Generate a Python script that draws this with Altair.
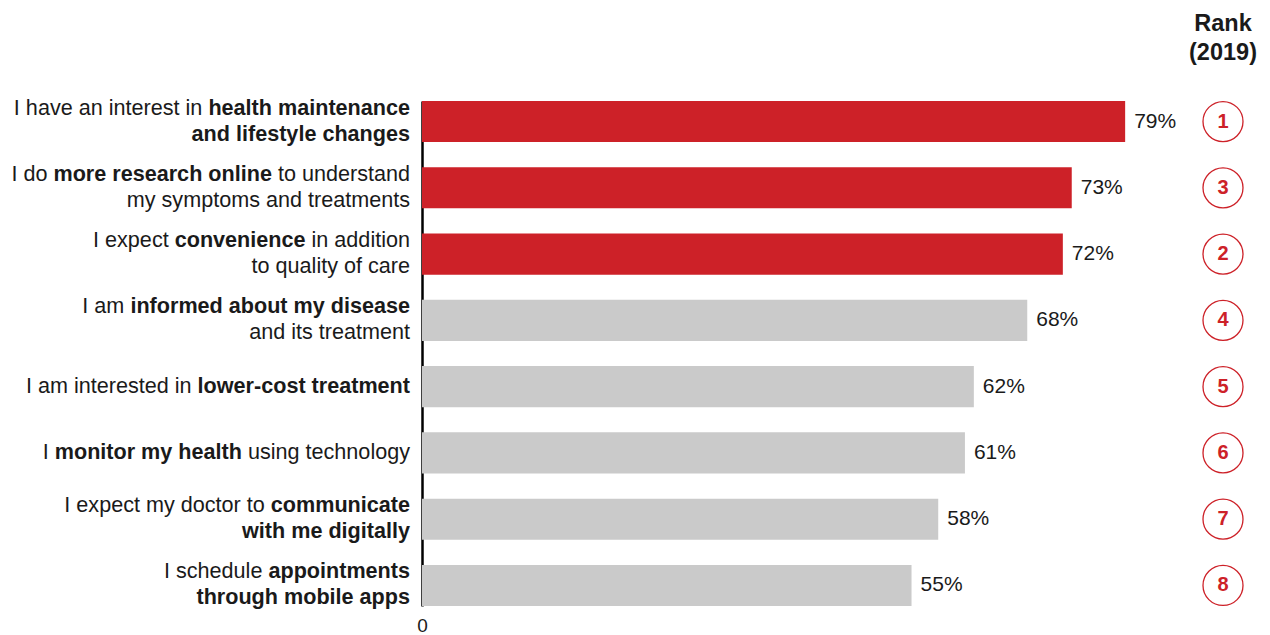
import altair as alt
import pandas as pd

# ---------------- data ----------------
categories = [
    "I have an interest in health maintenance and lifestyle changes",
    "I do more research online to understand my symptoms and treatments",
    "I expect convenience in addition to quality of care",
    "I am informed about my disease and its treatment",
    "I am interested in lower-cost treatment",
    "I monitor my health using technology",
    "I expect my doctor to communicate with me digitally",
    "I schedule appointments through mobile apps",
]
values = [79, 73, 72, 68, 62, 61, 58, 55]
rank_2019 = [1, 3, 2, 4, 5, 6, 7, 8]
highlight = ["top", "top", "top", "other", "other", "other", "other", "other"]

# label lines split into (text, weight) segments
label_lines = [
    [[("I have an interest in", "normal"), ("health maintenance", "bold")],
     [("and lifestyle changes", "bold")]],
    [[("I do", "normal"), ("more research online", "bold"), ("to understand", "normal")],
     [("my symptoms and treatments", "normal")]],
    [[("I expect", "normal"), ("convenience", "bold"), ("in addition", "normal")],
     [("to quality of care", "normal")]],
    [[("I am", "normal"), ("informed about my disease", "bold")],
     [("and its treatment", "normal")]],
    [[("I am interested in", "normal"), ("lower-cost treatment", "bold")]],
    [[("I", "normal"), ("monitor my health", "bold"), ("using technology", "normal")]],
    [[("I expect my doctor to", "normal"), ("communicate", "bold")],
     [("with me digitally", "bold")]],
    [[("I schedule", "normal"), ("appointments", "bold")],
     [("through mobile apps", "bold")]],
]

# ---------------- layout / style ----------------
FONT = "Liberation Sans"
LABEL_SIZE = 21.6
LINE_GAP = 13
TEXT_GAP = 12
PLOT_W = 761
PLOT_H = 505
X_MAX = 85.5
RED = "#CD2128"
GRAY = "#CACACA"
INK = "#1a1a1a"

# Arial / Liberation Sans advance widths (1/1000 em)
REG = dict(zip("abcdefghijklmnopqrstuvwxyz",
               [556, 556, 500, 556, 556, 278, 556, 556, 222, 222, 500, 222, 833,
                556, 556, 556, 556, 333, 500, 278, 556, 500, 722, 500, 500, 500]))
BOLD = dict(zip("abcdefghijklmnopqrstuvwxyz",
                [556, 611, 556, 611, 556, 333, 611, 611, 278, 278, 556, 278, 889,
                 611, 611, 611, 611, 389, 556, 333, 611, 556, 778, 556, 556, 500]))
for t in (REG, BOLD):
    t[" "] = 278
    t["-"] = 333
REG["I"] = 278
BOLD["I"] = 278


def text_width(s, weight):
    table = BOLD if weight == "bold" else REG
    return sum(table.get(ch, 556) for ch in s) * LABEL_SIZE / 1000.0


space_w = 278 * LABEL_SIZE / 1000.0

seg_rows = []
for cat, lines in zip(categories, label_lines):
    n = len(lines)
    for li, segs in enumerate(lines):
        dy = 0 if n == 1 else (-LINE_GAP if li == 0 else LINE_GAP)
        offset = TEXT_GAP
        for k in range(len(segs) - 1, -1, -1):
            txt, wt = segs[k]
            seg_rows.append({"category": cat, "text": txt, "weight": wt,
                             "dy": dy, "px": -offset})
            offset += text_width(txt, wt) + space_w
segs_df = pd.DataFrame(seg_rows)

bars_df = pd.DataFrame({
    "category": categories,
    "value": values,
    "label": [f"{v}%" for v in values],
    "rank": [str(r) for r in rank_2019],
    "group": highlight,
})

y_enc = alt.Y("category:N", sort=categories,
              scale=alt.Scale(paddingInner=0.38, paddingOuter=0),
              axis=alt.Axis(labels=False, ticks=False, title=None,
                            domainColor="#000000", domainWidth=2.5))

base = alt.Chart(bars_df)

bars = base.mark_bar().encode(
    x=alt.X("value:Q", scale=alt.Scale(domain=[0, X_MAX], nice=False),
            axis=alt.Axis(values=[0], title=None, domain=False, ticks=False,
                          grid=False, labelFontSize=19, labelColor=INK,
                          labelPadding=10, labelFont=FONT, labelFlush=False)),
    y=y_enc,
    color=alt.Color("group:N", scale=alt.Scale(domain=["top", "other"], range=[RED, GRAY]),
                    legend=None),
)

pct = base.mark_text(align="left", baseline="middle", dx=9, fontSize=21,
                     font=FONT, color=INK).encode(
    x="value:Q",
    y=alt.Y("category:N", sort=categories),
    text="label:N",
)

circles = base.mark_point(shape="circle", size=1600, filled=False, color=RED,
                          strokeWidth=1.3, opacity=1).encode(
    x=alt.value(801),
    y=alt.Y("category:N", sort=categories),
)

rank_txt = base.mark_text(align="center", baseline="middle", fontSize=20,
                          fontWeight="bold", font=FONT, color=RED).encode(
    x=alt.value(801),
    y=alt.Y("category:N", sort=categories),
    text="rank:N",
)

hdr1 = alt.Chart(pd.DataFrame({"t": ["Rank"]})).mark_text(
    align="center", baseline="middle", fontSize=23.5, fontWeight="bold",
    font=FONT, color=INK).encode(x=alt.value(801), y=alt.value(-77), text="t:N")
hdr2 = alt.Chart(pd.DataFrame({"t": ["(2019)"]})).mark_text(
    align="center", baseline="middle", fontSize=23.5, fontWeight="bold",
    font=FONT, color=INK).encode(x=alt.value(801), y=alt.value(-48), text="t:N")

label_layers = []
for wt in ["normal", "bold"]:
    for dy in [-LINE_GAP, 0, LINE_GAP]:
        sub = segs_df[(segs_df.weight == wt) & (segs_df.dy == dy)]
        if len(sub) == 0:
            continue
        label_layers.append(
            alt.Chart(sub).mark_text(align="right", baseline="middle", dy=dy,
                                     fontSize=LABEL_SIZE, fontWeight=wt,
                                     font=FONT, color=INK).encode(
                x=alt.X("px:Q", scale=None, axis=None),
                y=alt.Y("category:N", sort=categories),
                text="text:N",
            )
        )

chart = alt.layer(bars, pct, circles, rank_txt, hdr1, hdr2, *label_layers).properties(
    width=PLOT_W, height=PLOT_H,
    autosize=alt.AutoSizeParams(type="none"),
    padding={"left": 422, "top": 101, "right": 1270 - 422 - PLOT_W, "bottom": 635 - 101 - PLOT_H},
    background="white",
).configure_view(stroke=None).configure_text(font=FONT)

chart.save("out.html", embed_options={"renderer": "svg", "actions": False})
